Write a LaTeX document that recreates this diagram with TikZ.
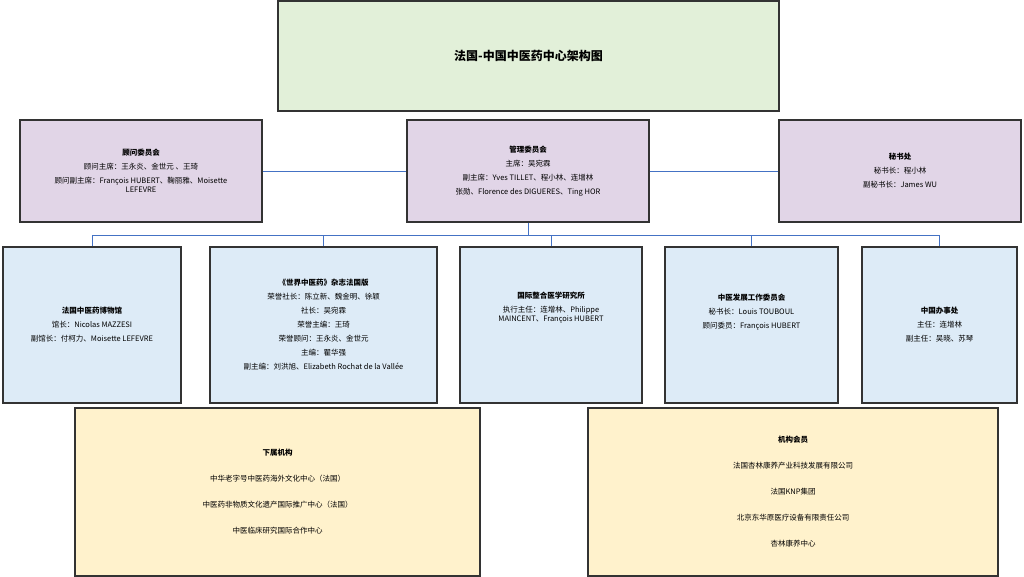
\documentclass[tikz,border=0pt]{standalone}
\usepackage{fontspec}
\setmainfont{Noto Sans CJK SC}
\begin{document}
\begin{tikzpicture}[x=1pt,y=-1pt,
 box/.style={draw=black!80,line width=1.2pt,align=center,font=\fontsize{7.5}{14}\selectfont,inner sep=0pt},
 g/.style={box,fill=green!10!white!90!black!3,fill={rgb,255:red,226;green,240;blue,217}},
 p/.style={box,fill={rgb,255:red,225;green,213;blue,231}},
 b/.style={box,fill={rgb,255:red,221;green,235;blue,247}},
 yl/.style={box,fill={rgb,255:red,255;green,242;blue,204}},
 ln/.style={draw={rgb,255:red,68;green,114;blue,196},line width=0.9pt}]
\useasboundingbox (0,0) rectangle (1024,576);
\newcommand\bx[7]{\node[#1,minimum width=#4-#2,minimum height=#5-#3] (#6) at ({(#2+#4)/2},{(#3+#5)/2}) {#7};}
\bx{g}{278}{1}{779}{111}{t}{\fontsize{12}{14}\selectfont\bfseries 法国-中国中医药中心架构图}
\bx{p}{20}{120}{262}{222}{gw}{\textbf{顾问委员会}\\顾问主席：王永炎、金世元 、王琦\\顾问副主席：François HUBERT、鞠丽雅、Moisette\\[-5pt]LEFEVRE}
\bx{p}{407}{120}{649}{222}{gl}{\textbf{管理委员会}\\主席：吴宛霖\\副主席：Yves TILLET、程小林、连增林\\张勋、Florence des DIGUERES、Ting HOR}
\bx{p}{779}{120}{1021}{222}{ms}{\textbf{秘书处}\\秘书长：程小林\\副秘书长：James WU}
\bx{b}{3}{247}{181}{403}{b1}{\textbf{法国中医药博物馆}\\馆长：Nicolas MAZZESI\\副馆长：付柯力、Moisette LEFEVRE}
\bx{b}{210}{247}{437}{403}{b2}{\textbf{《世界中医药》杂志法国版}\\荣誉社长：陈立新、魏金明、徐颖\\社长：吴宛霖\\荣誉主编：王琦\\荣誉顾问：王永炎、金世元\\主编：瞿华强\\副主编：刘洪旭、Elizabeth Rochat de la Vallée}
\bx{b}{460}{247}{642}{403}{b3}{\textbf{国际整合医学研究所}\\执行主任：连增林、Philippe\\[-5pt]MAINCENT、François HUBERT\\[22pt]}
\bx{b}{665}{247}{838}{403}{b4}{\textbf{中医发展工作委员会}\\秘书长：Louis TOUBOUL\\顾问委员：François HUBERT\\[14pt]}
\bx{b}{862}{247}{1017}{403}{b5}{\textbf{中国办事处}\\主任：连增林\\副主任：吴晓、苏琴}
\bx{yl}{75}{408}{480}{576}{y1}{\textbf{下属机构}\\[12pt]中华老字号中医药海外文化中心（法国）\\[12pt]中医药非物质文化遗产国际推广中心（法国）\\[12pt]中医临床研究国际合作中心}
\bx{yl}{588}{408}{998}{576}{y2}{\textbf{机构会员}\\[12pt]法国杏林康养产业科技发展有限公司\\[12pt]法国KNP集团\\[12pt]北京东华原医疗设备有限责任公司\\[12pt]杏林康养中心}
\draw[ln] (gw.east) -- (gl.west);
\draw[ln] (gl.east) -- (ms.west);
\coordinate (bus) at (528,235);
\draw[ln] (gl.south) -- (bus);
\draw[ln] (b1.north) -- (b1.north |- bus) -- (b5.north |- bus) -- (b5.north);
\foreach \n in {b2,b3,b4} \draw[ln] (\n.north) -- (\n.north |- bus);
\end{tikzpicture}
\end{document}
